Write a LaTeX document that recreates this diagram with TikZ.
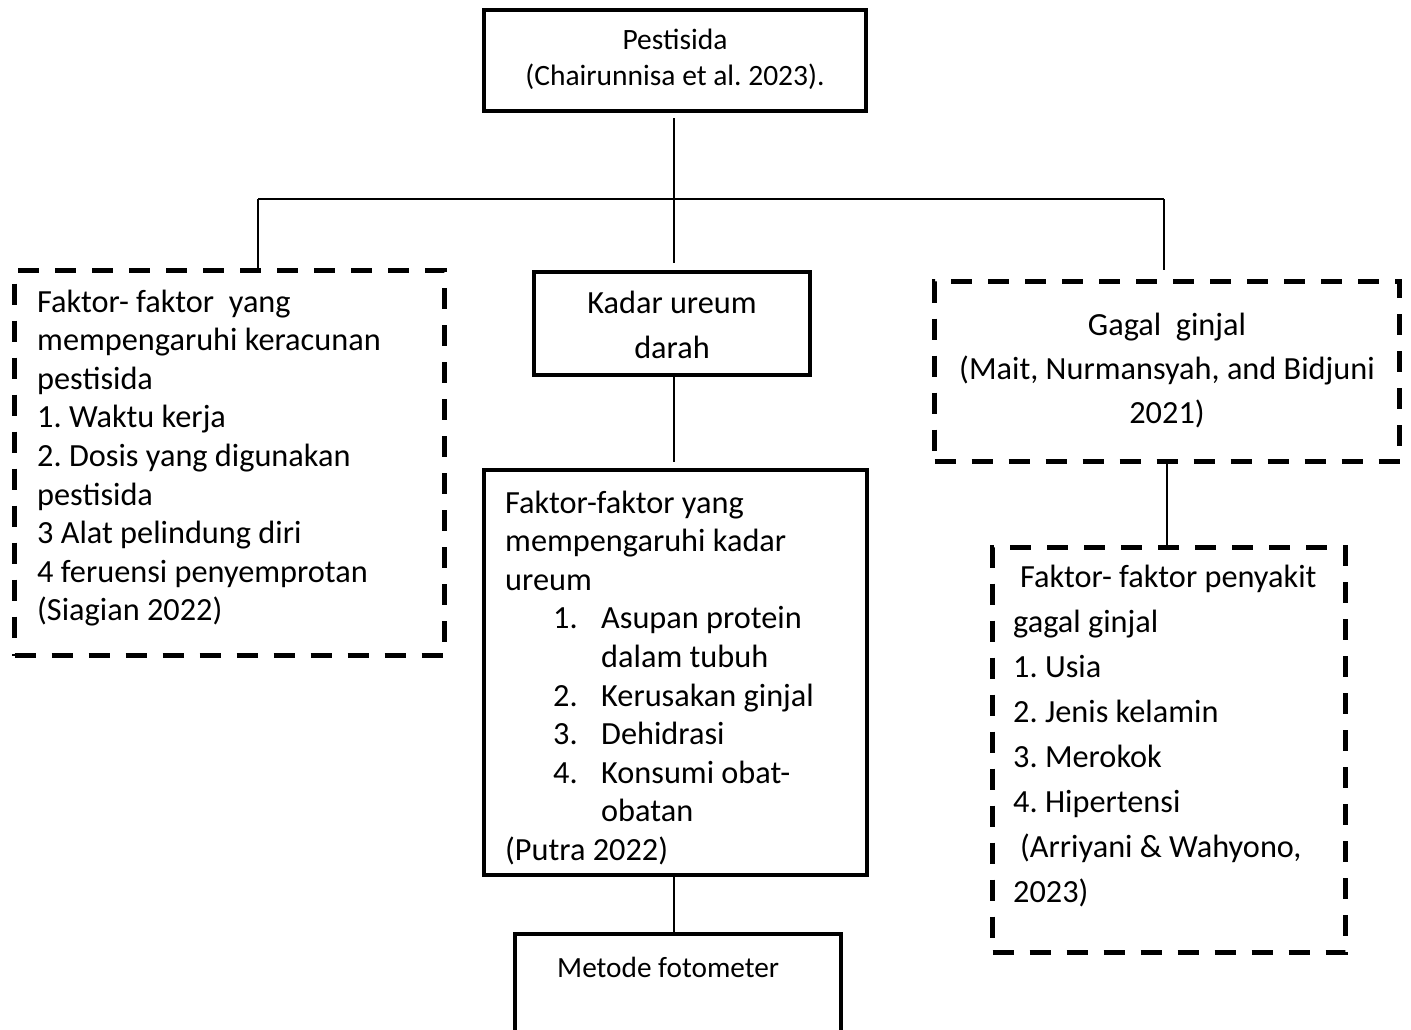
\documentclass[tikz,border=0pt]{standalone}
\usepackage{fontspec}
\setmainfont{Carlito}
\frenchspacing
\begin{document}
\begin{tikzpicture}[x=1pt,y=-1pt,
  solidbox/.style={draw, line width=4pt, inner sep=0pt},
  dashbox/.style={draw, line width=5pt, dash pattern=on 21pt off 16pt, inner sep=0pt},
  conn/.style={line width=1.3pt},
  txt/.style={inner sep=0pt, anchor=base west, font=\fontsize{32.3}{38.6}\selectfont},
  ctxt/.style={inner sep=0pt, anchor=base}]
\clip (0,0) rectangle (1411,1029);
\fill[white] (0,0) rectangle (1411,1029);

% boxes
\node[solidbox, minimum width=382pt, minimum height=101pt] (pest) at (675,60.5) {};
\node[solidbox, minimum width=276pt, minimum height=103pt] (kadar) at (672,323.5) {};
\node[solidbox, minimum width=383pt, minimum height=405pt] (faktor) at (675.5,672.5) {};
\node[solidbox, minimum width=326pt, minimum height=150pt] (metode) at (678,1009) {};
\node[dashbox, minimum width=430pt, minimum height=385pt] (left) at (229.5,463) {};
\node[dashbox, minimum width=465pt, minimum height=180pt] (gagal) at (1167,371.5) {};
\node[dashbox, minimum width=353pt, minimum height=405pt] (lower) at (1169,750) {};

% texts
\node[ctxt, font=\fontsize{29.5}{36}\selectfont] (tpest) at (675,49)
  {\parbox[t]{380pt}{\centering Pestisida\\(Chairunnisa et al. 2023).}};
\node[ctxt, font=\fontsize{32.3}{45}\selectfont] (tkadar) at (672,313)
  {\parbox[t]{270pt}{\centering Kadar ureum\\darah}};
\node[txt] (tleft) at (37,312)
  {\parbox[t]{420pt}{\raggedright Faktor- faktor\ \ yang\\
   mempengaruhi keracunan\\
   pestisida\\
   1. Waktu kerja\\
   2. Dosis yang digunakan\\
   pestisida\\
   3 Alat pelindung diri\\
   4 feruensi penyemprotan\\
   (Siagian 2022)}};
\node[txt] (tfaktor) at (505,513)
  {\parbox[t]{380pt}{\raggedright Faktor-faktor yang\\
   mempengaruhi kadar\\
   ureum\\
   \hspace*{48pt}\makebox[48pt][l]{1.}Asupan protein\\
   \hspace*{96pt}dalam tubuh\\
   \hspace*{48pt}\makebox[48pt][l]{2.}Kerusakan ginjal\\
   \hspace*{48pt}\makebox[48pt][l]{3.}Dehidrasi\\
   \hspace*{48pt}\makebox[48pt][l]{4.}Konsumi obat-\\
   \hspace*{96pt}obatan\\
   (Putra 2022)}};
\node[ctxt, font=\fontsize{32.3}{44}\selectfont] (tgagal) at (1167,335)
  {\parbox[t]{460pt}{\centering Gagal\ \ ginjal\\(Mait, Nurmansyah, and Bidjuni\\2021)}};
\node[txt, font=\fontsize{32.3}{45}\selectfont] (tlower) at (1013,587)
  {\parbox[t]{340pt}{\raggedright \hspace*{7pt}Faktor- faktor penyakit\\
   gagal ginjal\\
   1. Usia\\
   2. Jenis kelamin\\
   3. Merokok\\
   4. Hipertensi\\
   \hspace*{7pt}(Arriyani \& Wahyono,\\
   2023)}};
\node[txt, font=\fontsize{29.3}{36}\selectfont] (tmetode) at (557,977) {Metode fotometer};

% connectors
\coordinate (jl) at (258,199);
\coordinate (jr) at (1164,199);
\coordinate (cx) at (674,0);
\draw[conn, shorten <=5pt, shorten >=7pt] (cx |- pest.south) -- (cx |- kadar.north);
\draw[conn] (jl) -- (jr);
\draw[conn] (jl) -- (jl |- left.north);
\draw[conn, shorten >=9pt] (jr) -- (jr |- gagal.north);
\draw[conn, shorten >=6pt] (cx |- kadar.south) -- (cx |- faktor.north);
\draw[conn] (cx |- faktor.south) -- (cx |- metode.north);
\draw[conn] (gagal.south) -- (gagal.south |- lower.north);
\end{tikzpicture}
\end{document}
